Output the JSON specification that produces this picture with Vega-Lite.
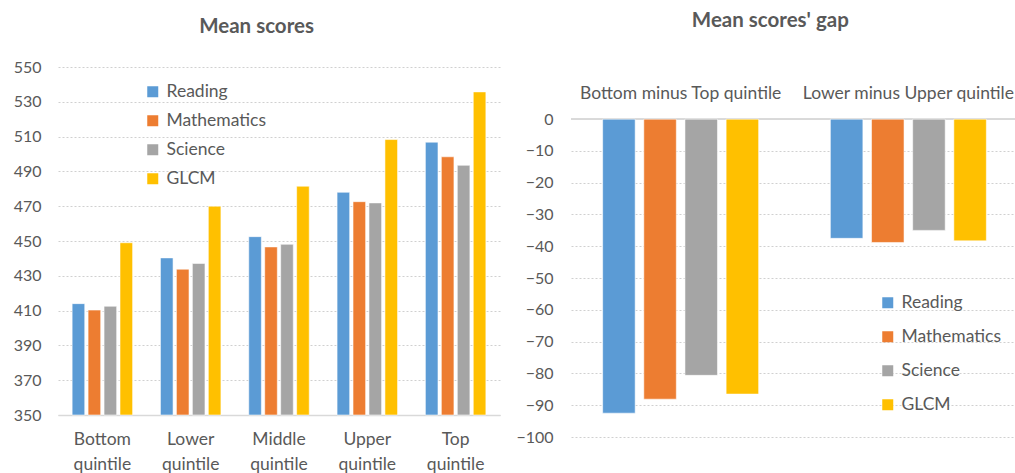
{
  "$schema": "https://vega.github.io/schema/vega-lite/v6.json",
  "background": "white",
  "padding": {"left": 13, "top": 10, "right": 0, "bottom": 0},
  "config": {
    "font": "Lato",
    "view": {"stroke": null},
    "concat": {"spacing": 71}
  },
  "bounds": "flush",
  "datasets": {
    "scores": [
      {"quintile": "Bottom quintile", "subject": "Reading", "score": 414.0},
      {"quintile": "Bottom quintile", "subject": "Mathematics", "score": 410.3},
      {"quintile": "Bottom quintile", "subject": "Science", "score": 412.5},
      {"quintile": "Bottom quintile", "subject": "GLCM", "score": 449.0},
      {"quintile": "Lower quintile", "subject": "Reading", "score": 440.3},
      {"quintile": "Lower quintile", "subject": "Mathematics", "score": 433.8},
      {"quintile": "Lower quintile", "subject": "Science", "score": 437.1},
      {"quintile": "Lower quintile", "subject": "GLCM", "score": 470.0},
      {"quintile": "Middle quintile", "subject": "Reading", "score": 452.5},
      {"quintile": "Middle quintile", "subject": "Mathematics", "score": 446.6},
      {"quintile": "Middle quintile", "subject": "Science", "score": 448.1},
      {"quintile": "Middle quintile", "subject": "GLCM", "score": 481.5},
      {"quintile": "Upper quintile", "subject": "Reading", "score": 478.0},
      {"quintile": "Upper quintile", "subject": "Mathematics", "score": 472.6},
      {"quintile": "Upper quintile", "subject": "Science", "score": 471.9},
      {"quintile": "Upper quintile", "subject": "GLCM", "score": 508.3},
      {"quintile": "Top quintile", "subject": "Reading", "score": 506.8},
      {"quintile": "Top quintile", "subject": "Mathematics", "score": 498.4},
      {"quintile": "Top quintile", "subject": "Science", "score": 493.5},
      {"quintile": "Top quintile", "subject": "GLCM", "score": 535.7}
    ],
    "gaps": [
      {"comparison": "Bottom minus Top quintile", "subject": "Reading", "gap": -92.5},
      {"comparison": "Bottom minus Top quintile", "subject": "Mathematics", "gap": -88.1},
      {"comparison": "Bottom minus Top quintile", "subject": "Science", "gap": -80.6},
      {"comparison": "Bottom minus Top quintile", "subject": "GLCM", "gap": -86.5},
      {"comparison": "Lower minus Upper quintile", "subject": "Reading", "gap": -37.5},
      {"comparison": "Lower minus Upper quintile", "subject": "Mathematics", "gap": -38.8},
      {"comparison": "Lower minus Upper quintile", "subject": "Science", "gap": -35.0},
      {"comparison": "Lower minus Upper quintile", "subject": "GLCM", "gap": -38.3}
    ]
  },
  "resolve": {"scale": {"color": "independent", "xOffset": "independent"}, "legend": {"color": "independent"}},
  "hconcat": [
    {
      "width": 442,
      "height": 348,
      "data": {"name": "scores"},
      "title": {"text": "Mean scores", "fontSize": 20.5, "fontWeight": "bold", "color": "#595959", "offset": 22, "frame": "bounds", "anchor": "middle"},
      "mark": {"type": "bar", "stroke": "white", "strokeWidth": 0.8, "strokeOpacity": 0.7},
      "encoding": {
        "x": {
          "field": "quintile", "type": "nominal",
          "sort": ["Bottom quintile", "Lower quintile", "Middle quintile", "Upper quintile", "Top quintile"],
          "scale": {"paddingInner": 0.315, "paddingOuter": 0.16},
          "axis": {"title": null, "labelExpr": "split(datum.label, ' ')", "labelAngle": 0, "labelFontSize": 17.5, "labelColor": "#595959", "ticks": false, "domainColor": "#d9d9d9", "domainWidth": 1.5, "labelPadding": 15, "labelLineHeight": 25, "labelBaseline": "top"}
        },
        "y": {
          "field": "score", "type": "quantitative",
          "scale": {"domain": [350, 550], "zero": false, "nice": false},
          "axis": {"title": null, "values": [350, 370, 390, 410, 430, 450, 470, 490, 510, 530, 550], "labelOverlap": false, "domain": false, "ticks": false, "labelPadding": 17, "labelFontSize": 16, "labelColor": "#595959", "gridColor": "#d0d0d0", "gridDash": [2, 2]}
        },
        "y2": {"datum": 350},
        "xOffset": {"field": "subject", "sort": ["Reading", "Mathematics", "Science", "GLCM"], "scale": {"paddingInner": 0.21}},
        "color": {
          "field": "subject", "type": "nominal",
          "scale": {"domain": ["Reading", "Mathematics", "Science", "GLCM"], "range": ["#5B9BD5", "#ED7D31", "#A5A5A5", "#FFC000"]},
          "legend": {"title": null, "orient": "none", "legendX": 86, "legendY": 16, "symbolType": "square", "symbolSize": 121, "symbolStrokeWidth": 0, "labelFontSize": 17.5, "labelColor": "#595959", "rowPadding": 10, "labelOffset": 5}
        }
      }
    },
    {
      "width": 447,
      "height": 370,
      "data": {"name": "gaps"},
      "title": {"text": "Mean scores' gap", "fontSize": 20.5, "fontWeight": "bold", "color": "#595959", "offset": 36, "frame": "bounds", "anchor": "middle", "dx": 3},
      "layer": [
        {
          "mark": {"type": "rule", "color": "#d9d9d9", "strokeWidth": 1.5},
          "encoding": {
            "y": {
              "datum": 0, "type": "quantitative",
              "scale": {"domain": [-100, 16.4], "nice": false},
              "axis": {"title": null, "values": [-100, -90, -80, -70, -60, -50, -40, -30, -20, -10, 0], "labelOverlap": false, "domain": false, "ticks": false, "labelPadding": 18, "labelFontSize": 16, "labelColor": "#595959", "grid": true, "gridColor": "#d0d0d0", "gridDash": [2, 2]}
            }
          }
        },
        {
          "mark": {"type": "bar", "stroke": "white", "strokeWidth": 0.8, "strokeOpacity": 0.7},
          "encoding": {
            "x": {
              "field": "comparison", "type": "nominal",
              "sort": ["Bottom minus Top quintile", "Lower minus Upper quintile"],
              "scale": {"paddingInner": 0.315, "paddingOuter": 0.139},
              "axis": null
            },
            "y": {
              "field": "gap", "type": "quantitative",
              "scale": {"domain": [-100, 16.4], "nice": false},
              "axis": {"title": null, "values": [-100, -90, -80, -70, -60, -50, -40, -30, -20, -10, 0], "labelOverlap": false, "domain": false, "ticks": false, "labelPadding": 18, "labelFontSize": 16, "labelColor": "#595959", "grid": true, "gridColor": "#d0d0d0", "gridDash": [2, 2]}
            },
            "xOffset": {"field": "subject", "sort": ["Reading", "Mathematics", "Science", "GLCM"], "scale": {"paddingInner": 0.21}},
            "color": {
              "field": "subject", "type": "nominal",
              "scale": {"domain": ["Reading", "Mathematics", "Science", "GLCM"], "range": ["#5B9BD5", "#ED7D31", "#A5A5A5", "#FFC000"]},
              "legend": {"title": null, "orient": "none", "legendX": 308, "legendY": 227, "symbolType": "square", "symbolSize": 121, "symbolStrokeWidth": 0, "labelFontSize": 17.5, "labelColor": "#595959", "rowPadding": 15, "labelOffset": 5}
            }
          }
        },
        {
          "transform": [{"filter": "datum.subject == 'Reading'"}],
          "mark": {"type": "text", "dy": -25, "fontSize": 17.5, "color": "#595959"},
          "encoding": {
            "x": {"field": "comparison", "type": "nominal", "sort": ["Bottom minus Top quintile", "Lower minus Upper quintile"]},
            "y": {
              "datum": 0, "type": "quantitative",
              "scale": {"domain": [-100, 16.4], "nice": false},
              "axis": {"title": null, "values": [-100, -90, -80, -70, -60, -50, -40, -30, -20, -10, 0], "labelOverlap": false, "domain": false, "ticks": false, "labelPadding": 18, "labelFontSize": 16, "labelColor": "#595959", "grid": true, "gridColor": "#d0d0d0", "gridDash": [2, 2]}
            },
            "text": {"field": "comparison"}
          }
        }
      ]
    }
  ]
}
